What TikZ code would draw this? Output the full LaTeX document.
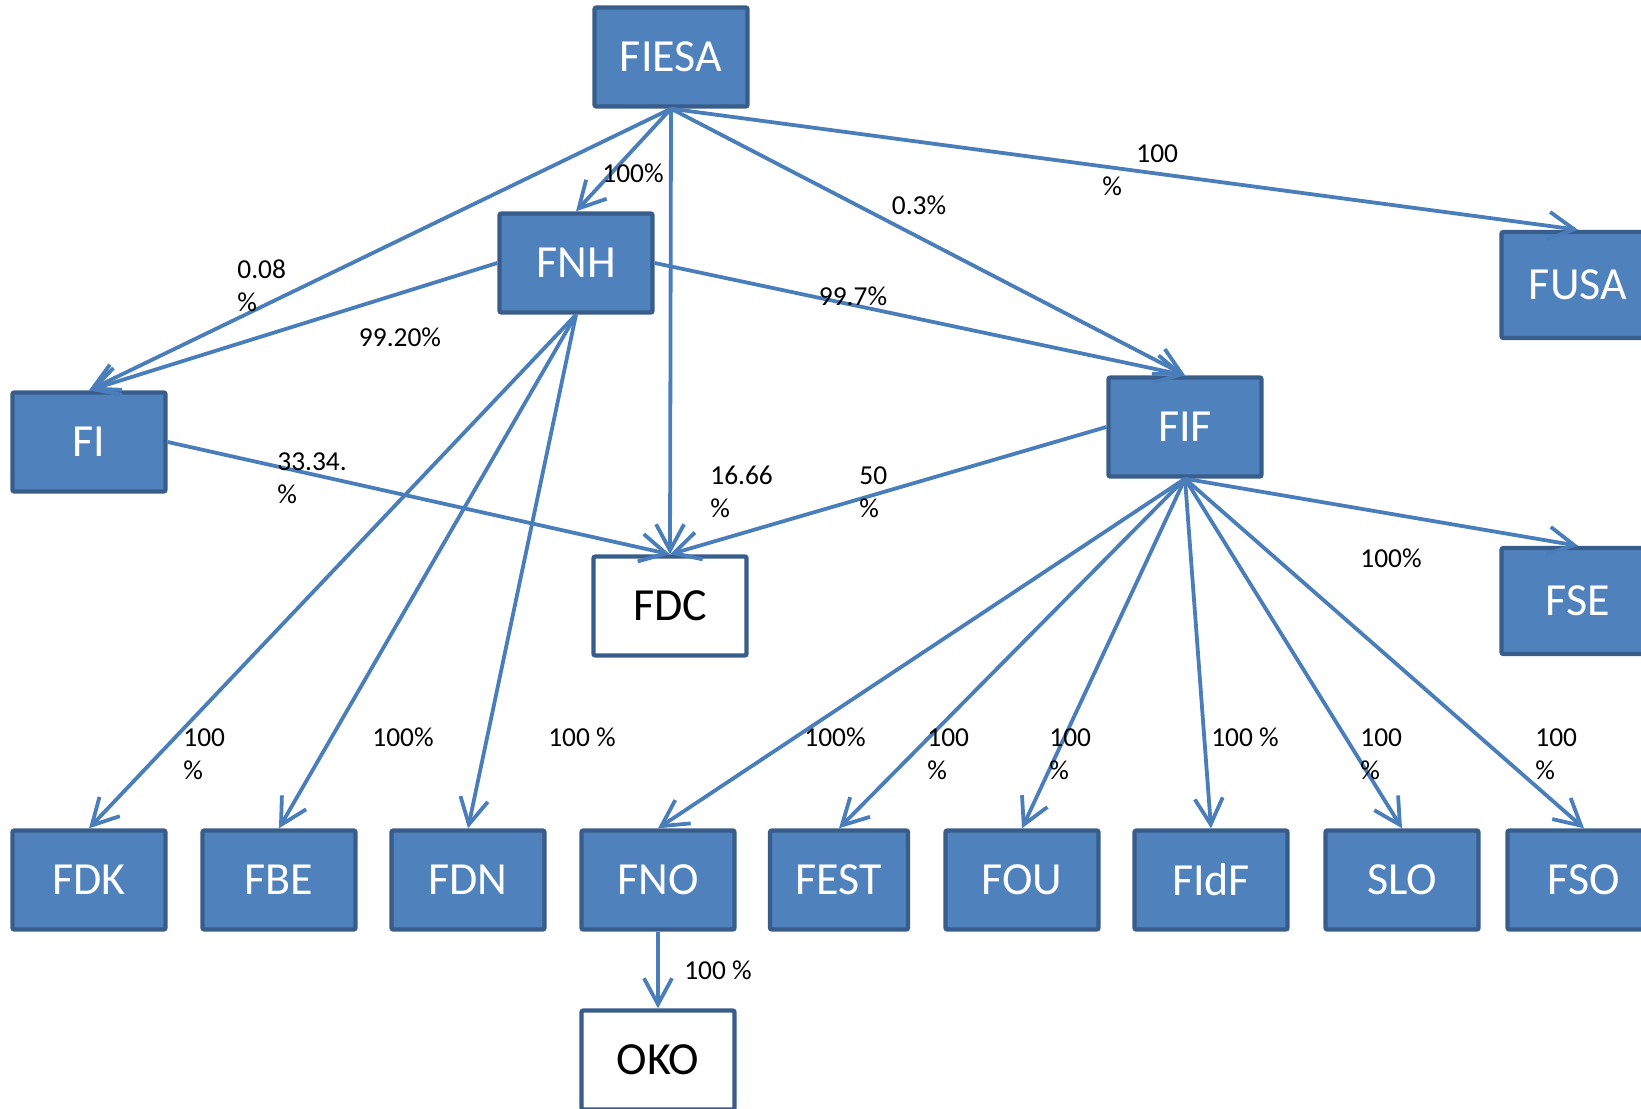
\documentclass[tikz,border=0pt]{standalone}
\usepackage{fontspec}
\setmainfont{Carlito}
\usetikzlibrary{arrows.meta}
\definecolor{boxfill}{HTML}{4F81BD}
\definecolor{boxdraw}{HTML}{385D8A}
\definecolor{linecol}{HTML}{4A7EBB}
\begin{document}
\begin{tikzpicture}[x=0.5pt,y=-0.5pt,
  ent/.style={draw=boxdraw, line width=2.2pt, fill=boxfill, text=white, rounded corners=1pt,
    minimum width=76.5pt, minimum height=49.5pt, inner sep=0pt, font=\fontsize{23}{27}\selectfont},
  entw/.style={ent, fill=white, text=black},
  link/.style={draw=linecol, line width=1.9pt, -{Straight Barb[length=13pt,width=14pt]}},
  lab/.style={inner sep=0pt, font=\fontsize{13.7}{16.5}\selectfont},
  labl/.style={lab, anchor=west, align=left}]
\useasboundingbox (0,0) rectangle (1641,1108);
% nodes
\node[ent] (FIESA) at (671,57) {FIESA};
\node[ent] (FNH) at (576,263) {FNH};
\node[ent] (FI) at (89,442) {FI};
\node[ent] (FIF) at (1185,427) {FIF};
\node[ent, minimum height=53pt] (FUSA) at (1578,285) {FUSA};
\node[ent, minimum height=53pt] (FSE) at (1578,601) {FSE};
\node[entw] (FDC) at (670,606) {FDC};
\node[ent] (FDK) at (89,880) {FDK};
\node[ent] (FBE) at (279,880) {FBE};
\node[ent] (FDN) at (468,880) {FDN};
\node[ent] (FNO) at (658,880) {FNO};
\node[ent, minimum width=69pt] (FEST) at (839,880) {FEST};
\node[ent] (FOU) at (1022,880) {FOU};
\node[ent] (FIdF) at (1211,880) {FIdF};
\node[ent] (SLO) at (1402,880) {SLO};
\node[ent] (FSO) at (1584,880) {FSO};
\node[entw] (OKO) at (658,1060) {OKO};
% connectors
\draw[link] (FIESA.south) -- (FI.north);
\draw[link] (FIESA.south) -- (FNH.north);
\draw[link] (FIESA.south) -- (FDC.north);
\draw[link] (FIESA.south) -- (FIF.north);
\draw[link] (FIESA.south) -- (FUSA.north);
\draw[link] (FNH.west) -- (FI.north);
\draw[link] (FNH.east) -- (FIF.north);
\draw[link] (FNH.south) -- (FDK.north);
\draw[link] (FNH.south) -- (FBE.north);
\draw[link] (FNH.south) -- (FDN.north);
\draw[link] (FI.east) -- (FDC.north);
\draw[link] (FIF.west) -- (FDC.north);
\draw[link] (FIF.south) -- (FSE.north);
\draw[link] (FIF.south) -- (FNO.north);
\draw[link] (FIF.south) -- (FEST.north);
\draw[link] (FIF.south) -- (FOU.north);
\draw[link] (FIF.south) -- (FIdF.north);
\draw[link] (FIF.south) -- (SLO.north);
\draw[link] (FIF.south) -- (FSO.north);
\draw[link] (FNO.south) -- (OKO.north);
% labels
\node[lab] (l1) at (633,173) {100\%};
\node[labl] (l2) at (1102,170) {\hspace*{17pt}100\\\%};
\node[lab] (l3) at (919,205) {0.3\%};
\node[labl] (l4) at (237,286) {0.08\\\%};
\node[lab] (l5) at (400,337) {99.20\%};
\node[lab] (l6) at (853,296) {99.7\%};
\node[labl] (l7) at (277,478) {33.34.\\\%};
\node[labl] (l8) at (710,492) {16.66\\\%};
\node[labl] (l9) at (859,492) {50\\\%};
\node[lab] (l10) at (1391,558) {100\%};
\node[labl] (l11) at (183,754) {100\\\%};
\node[lab] (l12) at (403,737) {100\%};
\node[lab] (l13) at (582,737) {100 \%};
\node[lab] (l14) at (835,737) {100\%};
\node[labl] (l15) at (927,754) {100\\\%};
\node[labl] (l16) at (1049,754) {100\\\%};
\node[lab] (l17) at (1245,737) {100 \%};
\node[labl] (l18) at (1360,754) {100\\\%};
\node[labl] (l19) at (1535,754) {100\\\%};
\node[lab] (l20) at (718,970) {100 \%};
\end{tikzpicture}
\end{document}
